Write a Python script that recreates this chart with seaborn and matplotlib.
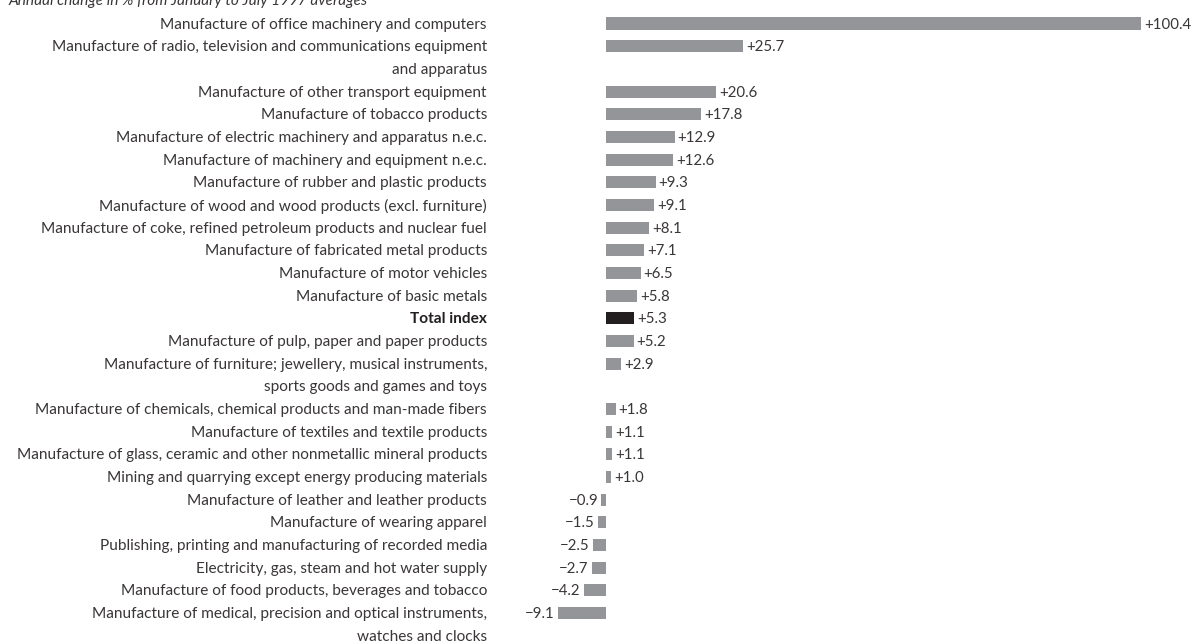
import matplotlib
matplotlib.use("Agg")
import matplotlib.pyplot as plt
import matplotlib.transforms as mtransforms
import seaborn as sns
import pandas as pd

categories = [
    "Manufacture of office machinery and computers",
    "Manufacture of radio, television and communications equipment\nand apparatus",
    "Manufacture of other transport equipment",
    "Manufacture of tobacco products",
    "Manufacture of electric machinery and apparatus n.e.c.",
    "Manufacture of machinery and equipment n.e.c.",
    "Manufacture of rubber and plastic products",
    "Manufacture of wood and wood products (excl. furniture)",
    "Manufacture of coke, refined petroleum products and nuclear fuel",
    "Manufacture of fabricated metal products",
    "Manufacture of motor vehicles",
    "Manufacture of basic metals",
    "Total index",
    "Manufacture of pulp, paper and paper products",
    "Manufacture of furniture; jewellery, musical instruments,\nsports goods and games and toys",
    "Manufacture of chemicals, chemical products and man-made fibers",
    "Manufacture of textiles and textile products",
    "Manufacture of glass, ceramic and other nonmetallic mineral products",
    "Mining and quarrying except energy producing materials",
    "Manufacture of leather and leather products",
    "Manufacture of wearing apparel",
    "Publishing, printing and manufacturing of recorded media",
    "Electricity, gas, steam and hot water supply",
    "Manufacture of food products, beverages and tobacco",
    "Manufacture of medical, precision and optical instruments,\nwatches and clocks",
]
values = [100.4, 25.7, 20.6, 17.8, 12.9, 12.6, 9.3, 9.1, 8.1, 7.1, 6.5, 5.8, 5.3,
          5.2, 2.9, 1.8, 1.1, 1.1, 1.0, -0.9, -1.5, -2.5, -2.7, -4.2, -9.1]
title = "Annual change in % from January to July 1997 averages"

# row positions: multi-line labels take extra rows
positions = []
r = 0
for c in categories:
    positions.append(r)
    r += c.count("\n") + 1

groups = ["total" if c == "Total index" else "sector" for c in categories]
df = pd.DataFrame({"cat": categories, "value": values, "pos": positions, "group": groups})

W, H = 1196, 643
fig = plt.figure(figsize=(W / 100, H / 100), dpi=100)
ax = fig.add_axes([0, 0, 1, 1])

sns.barplot(data=df, x="value", y="pos", hue="group", orient="h", native_scale=True,
            palette={"sector": "#939598", "total": "#231f20"}, width=0.53,
            legend=False, ax=ax, saturation=1, linewidth=0)

row_px = 22.67
top_px = 23.5
ax.set_ylim((H - top_px) / row_px, -top_px / row_px)
ppu = 535 / 100.4
ax.set_xlim(-606 / ppu, (W - 606) / ppu)
ax.axis("off")

font = dict(family="Lato", fontweight="normal", fontsize=11.1, color="#3a3637")
trans = mtransforms.blended_transform_factory(fig.transFigure, ax.transData)
for c, p in zip(categories, positions):
    for i, line in enumerate(c.split("\n")):
        kw = dict(font)
        if c == "Total index":
            kw["fontweight"] = "bold"
            kw["color"] = "#231f20"
        ax.text(487 / W, p + i + 0.05, line, transform=trans, ha="right", va="center", **kw)

off = 3 / ppu
vfont = dict(font, fontsize=10.8)
for v, p in zip(values, positions):
    if v >= 0:
        ax.text(v + off, p + 0.05, f"+{v:.1f}", ha="left", va="center", **vfont)
    else:
        ax.text(v - off, p + 0.05, f"\u2212{abs(v):.1f}", ha="right", va="center", **vfont)

fig.text(8 / W, 1 - 1.5 / H, title, ha="left", va="center", style="italic", **font)

fig.savefig("out.png", dpi=100)
